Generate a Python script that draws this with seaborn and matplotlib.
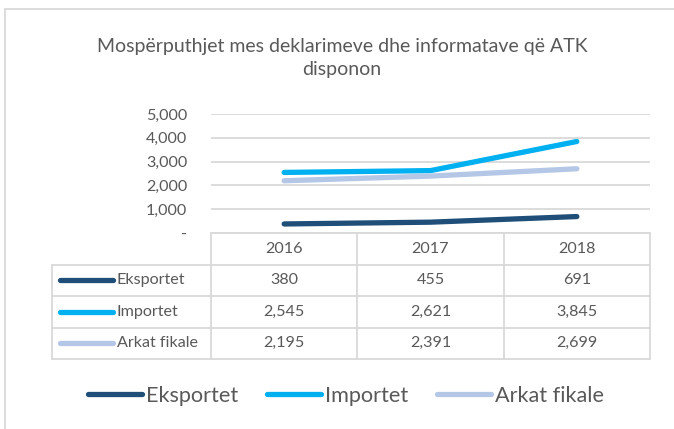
import numpy as np
import pandas as pd
import seaborn as sns
import matplotlib.pyplot as plt
from matplotlib.ticker import FuncFormatter
from matplotlib.lines import Line2D
from matplotlib.patches import Rectangle

# te dhenat
years = [2016, 2017, 2018]
series = ["Eksportet", "Importet", "Arkat fikale"]
eksportet = [380, 455, 691]
importet = [2545, 2621, 3845]
arkat_fikale = [2195, 2391, 2699]
colors = ["#1F4E79", "#00B0F0", "#B4C7E7"]
title = "Mospërputhjet mes deklarimeve dhe informatave që ATK\ndisponon"

sns.set_theme(style="white")
plt.rcParams["font.family"] = ["Lato", "DejaVu Sans"]

W, H = 674, 429
text_col = "#595959"
grid_col = "#D9D9D9"
fs_small = 11.6
fs_legend = 15.6


def box(x0, y0, x1, y1):
    # pixel box -> figure fraction
    return [x0 / W, 1 - y1 / H, (x1 - x0) / W, (y1 - y0) / H]


fig = plt.figure(figsize=(W / 100, H / 100), dpi=100)

# korniza e grafikut
fig.add_artist(Rectangle((5 / W, -0.1), 1.2, 1.1 - 9 / H, transform=fig.transFigure,
                         fill=False, ec=grid_col, lw=1.3))

fig.text(342 / W, 1 - 58 / H, title, ha="center", va="center", fontsize=14,
         color=text_col, linespacing=1.45)

df = pd.DataFrame({
    "year": years * 3,
    "value": eksportet + importet + arkat_fikale,
    "series": np.repeat(series, len(years)),
})

ax = fig.add_axes(box(211, 114, 650, 233))
sns.lineplot(data=df, x="year", y="value", hue="series", palette=colors,
             linewidth=3.8, legend=False, ax=ax, solid_capstyle="round")
ax.set_xlim(2015.5, 2018.5)
ax.set_ylim(0, 5000)
ax.set_yticks(range(0, 5001, 1000))
ax.set_xticks([])
ax.yaxis.set_major_formatter(FuncFormatter(lambda v, p: "-" if v == 0 else f"{v:,.0f}"))
ax.tick_params(axis="y", length=0, pad=17, labelsize=fs_small, labelcolor=text_col)
ax.yaxis.grid(True, color=grid_col, lw=1.3)
ax.set_xlabel("")
ax.set_ylabel("")
for s in ax.spines.values():
    s.set_visible(False)

# tabela e te dhenave
col_w = (650 - 211) / 3
xmin = 2015.5 - (211 - 52) / col_w
tax = fig.add_axes(box(52, 233, 650, 359))
tax.set_xlim(xmin, 2018.5)
tax.set_ylim(4, 0)
tax.axis("off")

line_kw = dict(color=grid_col, lw=1.3, clip_on=False)
tax.plot([2015.5, 2018.5], [0, 0], **line_kw)
for r in range(1, 5):
    tax.plot([xmin, 2018.5], [r, r], **line_kw)
for xv in [2015.5, 2016.5, 2017.5, 2018.5]:
    tax.plot([xv, xv], [0, 4], **line_kw)
tax.plot([xmin, xmin], [1, 4], **line_kw)

for y in years:
    tax.text(y, 0.5, str(y), ha="center", va="center", fontsize=fs_small, color=text_col)

rows = [eksportet, importet, arkat_fikale]
for i, (name, vals, c) in enumerate(zip(series, rows, colors)):
    yc = i + 1.5
    tax.plot([xmin + 8 / col_w, xmin + 61 / col_w], [yc, yc], color=c, lw=3.8,
             solid_capstyle="round", clip_on=False)
    tax.text(xmin + 65 / col_w, yc, name, ha="left", va="center", fontsize=fs_small, color=text_col)
    for y, v in zip(years, vals):
        tax.text(y, yc, f"{v:,}", ha="center", va="center", fontsize=fs_small, color=text_col)

handles = [Line2D([], [], color=c, lw=3.8, solid_capstyle="round") for c in colors]
fig.legend(handles, series, loc="center", bbox_to_anchor=(346 / W, 1 - 396 / H), ncol=3,
           frameon=False, fontsize=fs_legend, labelcolor=text_col, handlelength=2.5,
           handletextpad=0.2, columnspacing=1.3)

fig.savefig("out.png", dpi=100)
